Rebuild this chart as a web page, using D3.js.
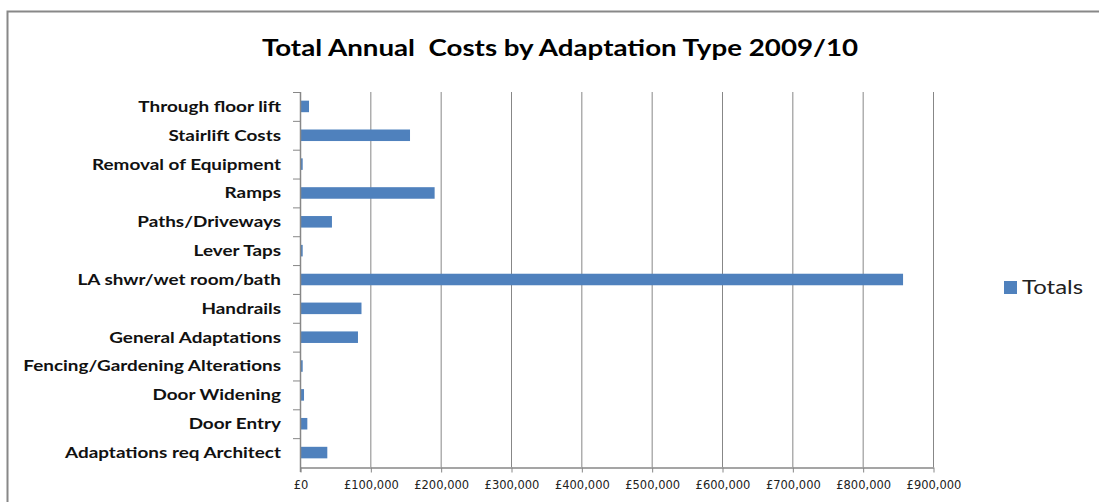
<!DOCTYPE html>
<html>
<head>
<meta charset="utf-8">
<script src="https://cdn.jsdelivr.net/npm/d3@7"></script>
<style>
  body { margin: 0; background: #fff; }
  svg { display: block; }
</style>
</head>
<body>
<div id="chart"></div>
<script>
const categories = [
  'Through floor lift',
  'Stairlift Costs',
  'Removal of Equipment',
  'Ramps',
  'Paths/Driveways',
  'Lever Taps',
  'LA shwr/wet room/bath',
  'Handrails',
  'General Adaptations',
  'Fencing/Gardening Alterations',
  'Door Widening',
  'Door Entry',
  'Adaptations req Architect'
];
const totals = [11400, 155000, 2400, 190000, 44000, 2400, 856000, 86000, 81000, 2400, 4300, 9000, 37400];
const xTicks = [0, 100000, 200000, 300000, 400000, 500000, 600000, 700000, 800000, 900000];
const seriesName = 'Totals';
const title = 'Total Annual  Costs by Adaptation Type 2009/10';

const WIDTH = 1099;
const HEIGHT = 502;
const PLOT = { left: 300, right: 933, top: 92, bottom: 467 };
const BLUE = '#4f81bd';
const GRID = '#878787';
const FONT = 'Lato, "Open Sans", sans-serif';
// the source picture is stretched sideways, so text is widened to match
const STRETCH = 1.26;

const svg = d3.select('#chart').append('svg')
  .attr('width', WIDTH)
  .attr('height', HEIGHT);

// chart frame (cut off at right and bottom in the source)
svg.append('path')
  .attr('d', `M7.5,${HEIGHT + 2}V11.5H${WIDTH + 2}`)
  .attr('fill', 'none')
  .attr('stroke', '#888')
  .attr('stroke-width', 2);

svg.append('text')
  .attr('transform', `translate(560,56) scale(${STRETCH},1)`)
  .attr('text-anchor', 'middle')
  .attr('font-family', FONT)
  .attr('font-weight', 'bold')
  .attr('font-size', 22)
  .attr('fill', '#000')
  .style('white-space', 'pre')
  .text(title);

const x = d3.scaleLinear()
  .domain([0, 900000])
  .range([PLOT.left, PLOT.right]);

const y = d3.scaleBand()
  .domain(categories)
  .range([PLOT.top, PLOT.bottom])
  .paddingInner(0.6)
  .paddingOuter(0.3);

// band boundaries for the category tick marks
const step = (PLOT.bottom - PLOT.top) / categories.length;

// gridlines
svg.append('g')
  .selectAll('line')
  .data(xTicks.slice(1))
  .join('line')
  .attr('x1', d => x(d) + 0.5)
  .attr('x2', d => x(d) + 0.5)
  .attr('y1', PLOT.top)
  .attr('y2', PLOT.bottom)
  .attr('stroke', GRID)
  .attr('stroke-width', 1);

// bars
svg.append('g')
  .selectAll('rect')
  .data(totals)
  .join('rect')
  .attr('x', x(0) + 1)
  .attr('y', (d, i) => y(categories[i]))
  .attr('width', d => Math.max(1.5, x(d) - x(0)))
  .attr('height', y.bandwidth())
  .attr('fill', BLUE);

// x axis
const xAxis = d3.axisBottom(x)
  .tickValues(xTicks)
  .tickSize(5)
  .tickSizeOuter(0)
  .tickPadding(8)
  .tickFormat(d => '£' + d3.format(',')(d));

const gx = svg.append('g')
  .attr('transform', `translate(0.5,${PLOT.bottom + 0.5})`)
  .call(xAxis);
gx.select('.domain').attr('stroke', GRID).attr('stroke-width', 1.5);
gx.selectAll('.tick line').attr('stroke', GRID);
gx.selectAll('.tick text')
  .attr('font-family', '"DejaVu Sans", sans-serif')
  .attr('font-size', 11.5)
  .attr('fill', '#222');

// y axis: line + tick marks between categories
const gy = svg.append('g');
gy.append('line')
  .attr('x1', PLOT.left + 0.5).attr('x2', PLOT.left + 0.5)
  .attr('y1', PLOT.top).attr('y2', PLOT.bottom + 5)
  .attr('stroke', GRID).attr('stroke-width', 1.5);
gy.selectAll('line.tk')
  .data(d3.range(categories.length))
  .join('line')
  .attr('class', 'tk')
  .attr('x1', PLOT.left - 7).attr('x2', PLOT.left)
  .attr('y1', i => PLOT.top + i * step + 0.5)
  .attr('y2', i => PLOT.top + i * step + 0.5)
  .attr('stroke', GRID);

gy.selectAll('text')
  .data(categories)
  .join('text')
  .attr('transform', d => `translate(281,${y(d) + y.bandwidth() / 2}) scale(${STRETCH},1)`)
  .attr('dy', '0.36em')
  .attr('text-anchor', 'end')
  .attr('font-family', FONT)
  .attr('font-weight', 'bold')
  .attr('font-size', 15)
  .attr('fill', '#111')
  .text(d => d);

// legend
const legend = svg.append('g').attr('transform', 'translate(1004,281)');
legend.append('rect')
  .attr('width', 13).attr('height', 13)
  .attr('fill', BLUE);
legend.append('text')
  .attr('transform', `translate(18,13) scale(${STRETCH},1)`)
  .attr('font-family', FONT)
  .attr('font-size', 19)
  .attr('fill', '#222')
  .text(seriesName);
</script>
</body>
</html>
